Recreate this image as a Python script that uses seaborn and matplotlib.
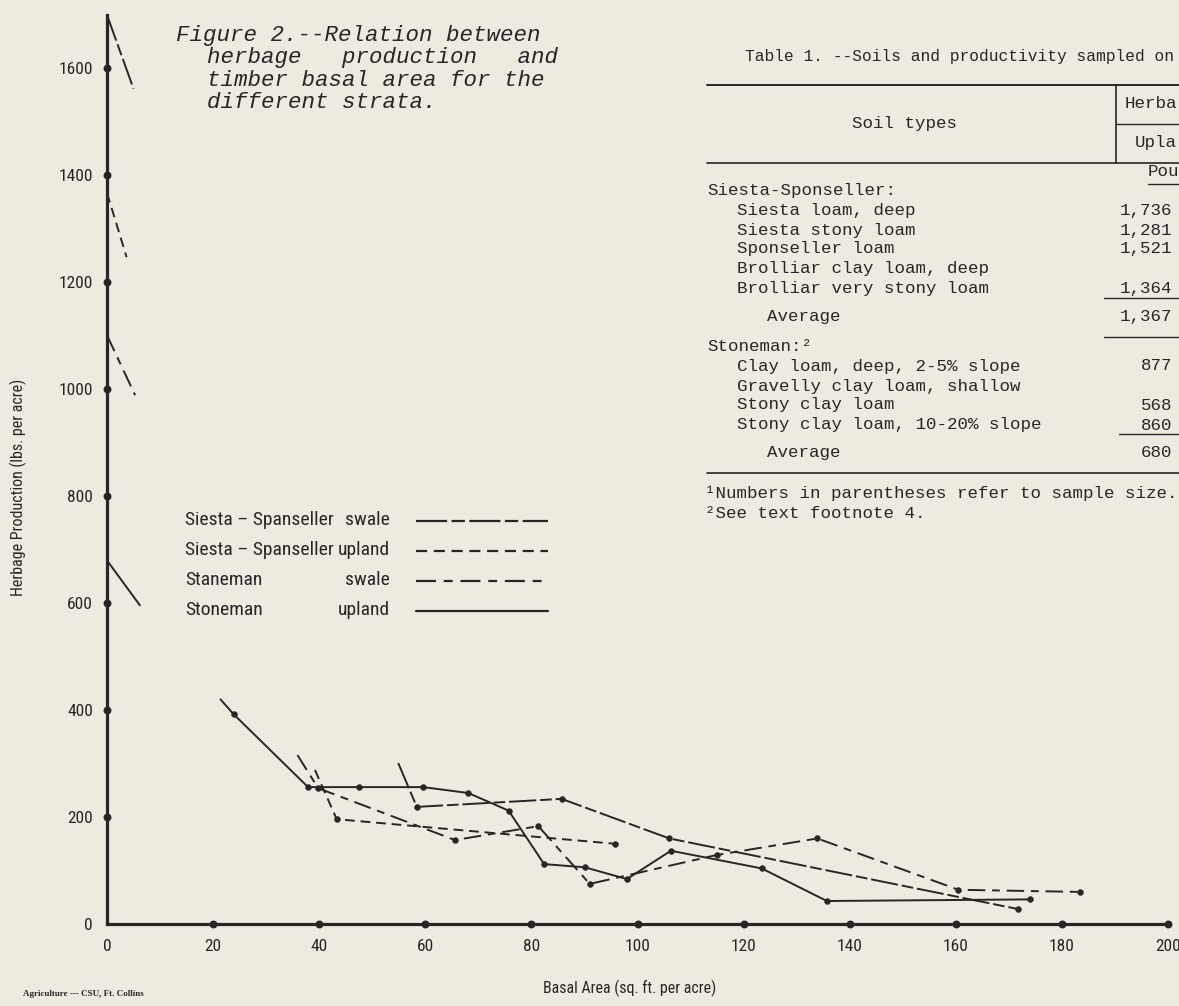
"""Figure 2 - herbage production vs timber basal area, with Table 1 beside it"""

import matplotlib
matplotlib.use('Agg')
import matplotlib.pyplot as plt
import matplotlib.font_manager as fm
from matplotlib.lines import Line2D
import numpy as np
import pandas as pd
import seaborn as sns

# ---- values ----
strata = ['SS swale', 'SS upland', 'St swale', 'St upland']

# start of each curve (the short lead-in before the first point)
lead_x = [54.9, 39.2, 35.9, 21.4]
lead_y = [301, 288, 316, 420]

ss_swale_x = [58.4, 85.7, 106.0, 171.7]
ss_swale_y = [219, 234, 160, 28]
ss_upland_x = [43.3, 95.8]
ss_upland_y = [196, 150]
st_swale_x = [39.8, 65.6, 81.3, 91.0, 114.9, 133.9, 160.5, 183.5]
st_swale_y = [254, 157, 183, 75, 129, 160, 64, 60]
st_upland_x = [23.9, 37.9, 47.5, 59.6, 68.1, 75.7, 82.4, 90.1, 98.0, 106.3, 123.4, 135.7, 174.0]
st_upland_y = [392, 256, 256, 256, 245, 212, 112, 106, 84, 137, 104, 43, 46]

# short lines coming off the y axis at the stratum averages
avg_y = [1700, 1367, 1101, 680]
avg_end_x = [5.0, 3.7, 5.3, 6.2]
avg_end_y = [1562, 1247, 989, 596]

legend_names = ['Siesta \u2013 Spanseller', 'Siesta \u2013 Spanseller', 'Staneman', 'Stoneman']
legend_types = ['swale', 'upland', 'swale', 'upland']

x_ticks = list(range(0, 201, 20))
y_ticks = list(range(0, 1601, 200))

caption = ['Figure 2.--Relation between', 'herbage   production   and',
           'timber basal area for the', 'different strata.']

soil_labels = ['Siesta-Sponseller:', 'Siesta loam, deep', 'Siesta stony loam', 'Sponseller loam',
               'Brolliar clay loam, deep', 'Brolliar very stony loam', 'Average',
               'Stoneman:\u00b2', 'Clay loam, deep, 2-5% slope', 'Gravelly clay loam, shallow',
               'Stony clay loam', 'Stony clay loam, 10-20% slope', 'Average']
upland_lbs = ['', '1,736', '1,281', '1,521', '', '1,364', '1,367', '', '877', '', '568', '860', '680']
footnotes = ['\u00b9Numbers in parentheses refer to sample size.', '\u00b2See text footnote 4.']

# ---- tidy frames ----
pts = {'SS swale': (ss_swale_x, ss_swale_y), 'SS upland': (ss_upland_x, ss_upland_y),
       'St swale': (st_swale_x, st_swale_y), 'St upland': (st_upland_x, st_upland_y)}
rows, dots = [], []
for i, s in enumerate(strata):
    xs, ys = pts[s]
    rows.append(pd.DataFrame({'series': s, 'part': 'curve', 'x': [lead_x[i]] + xs, 'y': [lead_y[i]] + ys}))
    rows.append(pd.DataFrame({'series': s, 'part': 'axis', 'x': [0, avg_end_x[i]], 'y': [avg_y[i], avg_end_y[i]]}))
    dots.append(pd.DataFrame({'series': s, 'x': xs, 'y': ys}))
lines_df = pd.concat(rows, ignore_index=True)
dots_df = pd.concat(dots, ignore_index=True)

# ---- style ----
sns.set_style('white')
names = {f.name for f in fm.fontManager.ttflist}
narrow = next((n for n in ['Liberation Sans Narrow', 'Roboto Condensed'] if n in names), None)
sans = narrow or 'Roboto'
k = 1.0 if narrow else 0.85

ink = '#2a2425'
paper = '#efeae0'
dash_map = {'SS swale': (14, 2, 6, 2), 'SS upland': (5, 3), 'St swale': (9, 3.5, 4, 3.5), 'St upland': ''}

W, H = 1179, 1006
fig = plt.figure(figsize=(W / 100, H / 100), dpi=100, facecolor=paper)
ax = fig.add_axes([107 / W, 1 - 924 / H, (1168 - 107) / W, (924 - 15) / H], facecolor=paper)


def fx(px):
    return px / W


def fy(py):
    return 1 - py / H


sns.lineplot(data=lines_df, x='x', y='y', hue='series', style='series', units='part',
             estimator=None, dashes=dash_map, palette={s: ink for s in strata},
             linewidth=1.4, legend=False, ax=ax)
sns.scatterplot(data=dots_df, x='x', y='y', color=ink, s=18, edgecolor=None, legend=False, ax=ax, zorder=3)

ax.set_xlim(0, 200)
ax.set_ylim(0, 1700)
for side in ['top', 'right']:
    ax.spines[side].set_visible(False)
for side in ['left', 'bottom']:
    ax.spines[side].set_linewidth(2.3)
    ax.spines[side].set_color(ink)
ax.set_xticks(x_ticks)
ax.set_yticks(y_ticks)
ax.tick_params(length=0, colors=ink)
ax.tick_params(axis='x', pad=11)
ax.tick_params(axis='y', pad=10)
for lab in ax.get_xticklabels() + ax.get_yticklabels():
    lab.set_fontfamily(sans)
    lab.set_fontsize(12.5 * k)
# dots on the axis lines at every tick
ax.scatter(x_ticks[1:], [0] * (len(x_ticks) - 1), s=22, color=ink, clip_on=False, zorder=4)
ax.scatter([0] * (len(y_ticks) - 1), y_ticks[1:], s=22, color=ink, clip_on=False, zorder=4)

ax.set_xlabel('Basal Area (sq. ft. per acre)', fontfamily=sans, fontsize=11.5 * k, color=ink)
ax.set_ylabel('Herbage Production (lbs. per acre)', fontfamily=sans, fontsize=11.5 * k, color=ink)
ax.xaxis.set_label_coords(0.493, -0.061)
ax.yaxis.set_label_coords(-0.075, 0.48)

# hand-drawn style key
key_y = [520, 550, 580, 610]
for i, s in enumerate(strata):
    fig.text(fx(185), fy(key_y[i]), legend_names[i], fontfamily=sans, fontsize=14 * k,
             color=ink, va='center', ha='left')
    fig.text(fx(390), fy(key_y[i]), legend_types[i], fontfamily=sans, fontsize=14 * k,
             color=ink, va='center', ha='right')
    ls = '-' if dash_map[s] == '' else (0, dash_map[s])
    fig.add_artist(Line2D([fx(416), fx(548)], [fy(key_y[i] + 1)] * 2, color=ink, lw=1.6, linestyle=ls))

# caption
cap_x = [176, 207, 207, 207]
cap_y = [35, 57.5, 80, 102.5]
for t, x, y in zip(caption, cap_x, cap_y):
    fig.text(fx(x), fy(y), t, fontfamily='Liberation Mono', fontstyle='italic',
             fontsize=16.2, color=ink, va='center', ha='left')

fig.text(fx(23), fy(994), 'Agriculture --- CSU, Ft. Collins', fontfamily='Liberation Serif',
         fontweight='bold', fontsize=6.5, color=ink, va='center', ha='left')

# ---- Table 1 ----
mono = dict(fontfamily='Liberation Mono', fontsize=12.6, color=ink, va='center')
fig.text(fx(745), fy(56), 'Table 1. --Soils and productivity sampled on', ha='left',
         **{**mono, 'fontsize': 11.7})


def hline(y, x0, x1, lw=1.0):
    fig.add_artist(Line2D([fx(x0), fx(x1)], [fy(y), fy(y)], color=ink, lw=lw))


hline(85, 707, 1179, 1.4)
hline(124, 1116, 1179)
hline(163, 707, 1179, 1.2)
fig.add_artist(Line2D([fx(1116), fx(1116)], [fy(85), fy(163)], color=ink, lw=1.2))
fig.text(fx(905), fy(123), 'Soil types', ha='center', **mono)
fig.text(fx(1177), fy(104), 'Herba', ha='right', **mono)
fig.text(fx(1177), fy(143), 'Upla', ha='right', **mono)
fig.text(fx(1148), fy(172), 'Pou', ha='left', **mono)
hline(184, 1148, 1179)

row_y = [191, 210, 230, 249, 269, 288, 317, 346, 366, 386, 405, 425, 453]
row_x = [707, 737, 737, 737, 737, 737, 767, 707, 737, 737, 737, 737, 767]
for lab, val, x, y in zip(soil_labels, upland_lbs, row_x, row_y):
    fig.text(fx(x), fy(y), lab, ha='left', **mono)
    if val:
        fig.text(fx(1172), fy(y), val, ha='right', **mono)
hline(298, 1104, 1179)
hline(337, 1104, 1179)
hline(434, 1119, 1179)
hline(473, 707, 1179, 1.2)
fig.text(fx(705), fy(493), footnotes[0], ha='left', **mono)
fig.text(fx(705), fy(514), footnotes[1], ha='left', **mono)

fig.savefig('out.png', dpi=100, facecolor=paper)
